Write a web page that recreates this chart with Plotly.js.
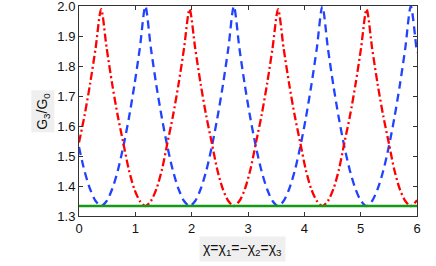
<!DOCTYPE html>
<html>
<head>
<meta charset="utf-8">
<script src="https://cdn.plot.ly/plotly-3.0.1.min.js"></script>
<style>
  html, body { margin: 0; padding: 0; background: #ffffff; }
  #chart { width: 436px; height: 266px; }
</style>
</head>
<body>
<div id="chart"></div>
<script>
// chi values (x axis)
const chi = [0, 0.098, 0.196, 0.295, 0.393, 0.491, 0.589, 0.687, 0.785, 0.884, 0.982, 1.080, 1.178, 1.276, 1.374, 1.473,
  1.571, 1.669, 1.767, 1.865, 1.963, 2.062, 2.160, 2.258, 2.356, 2.454, 2.553, 2.651, 2.749, 2.847, 2.945, 3.043,
  3.142, 3.240, 3.338, 3.436, 3.534, 3.632, 3.731, 3.829, 3.927, 4.025, 4.123, 4.222, 4.320, 4.418, 4.516, 4.614,
  4.712, 4.811, 4.909, 5.007, 5.105, 5.203, 5.301, 5.400, 5.498, 5.596, 5.694, 5.792, 5.890, 5.989, 6.0];

// blue dashed series G3/G0
const blueG = [1.53, 1.45, 1.39, 1.35, 1.333, 1.35, 1.39, 1.45, 1.53, 1.625, 1.735, 1.86, 2.0, 1.86, 1.735, 1.625,
  1.53, 1.45, 1.39, 1.35, 1.333, 1.35, 1.39, 1.45, 1.53, 1.625, 1.735, 1.86, 2.0, 1.86, 1.735, 1.625,
  1.53, 1.45, 1.39, 1.35, 1.333, 1.35, 1.39, 1.45, 1.53, 1.625, 1.735, 1.86, 2.0, 1.86, 1.735, 1.625,
  1.53, 1.45, 1.39, 1.35, 1.333, 1.35, 1.39, 1.45, 1.53, 1.625, 1.735, 1.86, 2.0, 1.86, 1.846];

// red dash-dot series G3/G0
const redG = [1.545, 1.635, 1.74, 1.86, 1.99, 1.86, 1.74, 1.635, 1.545, 1.455, 1.39, 1.35, 1.333, 1.35, 1.39, 1.455,
  1.545, 1.635, 1.74, 1.86, 1.99, 1.86, 1.74, 1.635, 1.545, 1.455, 1.39, 1.35, 1.333, 1.35, 1.39, 1.455,
  1.545, 1.635, 1.74, 1.86, 1.99, 1.86, 1.74, 1.635, 1.545, 1.455, 1.39, 1.35, 1.333, 1.35, 1.39, 1.455,
  1.545, 1.635, 1.74, 1.86, 1.99, 1.86, 1.74, 1.635, 1.545, 1.455, 1.39, 1.35, 1.333, 1.35, 1.353];

// green solid series (constant)
const greenX = [0, 6];
const greenG = [1.3333, 1.3333];

// tick labels
const xTicks = [0, 1, 2, 3, 4, 5, 6];
const yTicks = [1.3, 1.4, 1.5, 1.6, 1.7, 1.8, 1.9, 2.0];
const yTickText = ['1.3', '1.4', '1.5', '1.6', '1.7', '1.8', '1.9', '2.0'];

const FONT = 'Liberation Sans, Arial, Helvetica, sans-serif';

const traces = [
  { x: chi, y: blueG, type: 'scatter', mode: 'lines', cliponaxis: true,
    line: { color: '#2142ff', width: 2.3, dash: '8px,5px', shape: 'spline', smoothing: 0.8 } },
  { x: chi, y: redG, type: 'scatter', mode: 'lines', cliponaxis: true,
    line: { color: '#ff0000', width: 2.3, dash: '8px,3px,2px,3px', shape: 'spline', smoothing: 0.8 } },
  { x: greenX, y: greenG, type: 'scatter', mode: 'lines',
    line: { color: '#149a14', width: 2.4 } }
];

const axisCommon = {
  showline: true, linecolor: '#333333', linewidth: 1, mirror: 'ticks',
  ticks: 'inside', ticklen: 4, tickwidth: 1, tickcolor: '#333333',
  showgrid: false, zeroline: false, ticklabeloverflow: 'allow',
  tickfont: { family: FONT, size: 13, color: '#111111' }
};

const layout = {
  width: 436, height: 266,
  margin: { l: 79, r: 19, t: 6, b: 50 },
  paper_bgcolor: '#ffffff', plot_bgcolor: '#ffffff',
  showlegend: false,
  xaxis: Object.assign({}, axisCommon, {
    range: [0, 6], tickmode: 'array', tickvals: xTicks, ticktext: xTicks.map(String)
  }),
  yaxis: Object.assign({}, axisCommon, {
    range: [1.3, 2.0005], tickmode: 'array', tickvals: yTicks, ticktext: yTickText
  }),
  annotations: [
    { text: 'G<sub>3</sub>/G<sub>0</sub>', xref: 'paper', yref: 'paper',
      x: -0.107, y: 0.5, xanchor: 'center', yanchor: 'middle', textangle: -90,
      showarrow: false, bgcolor: '#efefef', borderpad: 2,
      font: { family: FONT, size: 14, color: '#111111' } },
    { text: 'χ=χ<sub>1</sub>=−χ<sub>2</sub>=χ<sub>3</sub>', xref: 'paper', yref: 'paper',
      x: 0.485, y: -0.157, xanchor: 'center', yanchor: 'middle',
      showarrow: false, bgcolor: '#efefef', borderpad: 3,
      font: { family: FONT, size: 14, color: '#111111' } }
  ]
};

Plotly.newPlot('chart', traces, layout, { displayModeBar: false, staticPlot: true });
</script>
</body>
</html>
